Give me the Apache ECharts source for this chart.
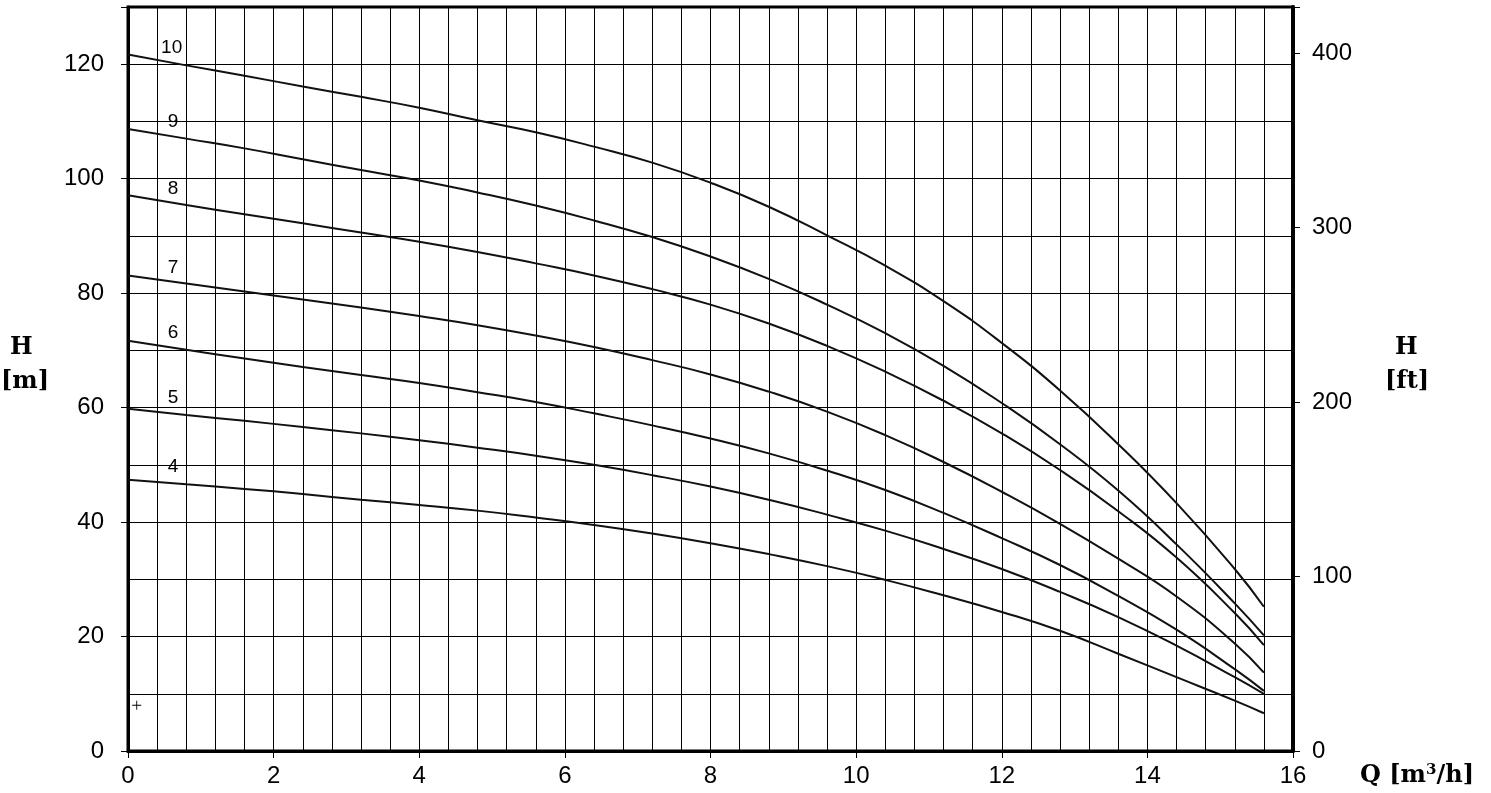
<!DOCTYPE html>
<html>
<head>
<meta charset="utf-8">
<script src="https://cdn.jsdelivr.net/npm/echarts@6/dist/echarts.min.js"></script>
<style>html,body{margin:0;padding:0;background:#fff}#c{width:1491px;height:793px}</style>
</head>
<body>
<div id="c"></div>
<script>
// Flow rate Q [m3/h]
const Q = [0, 0.8, 1.6, 2.4, 3.2, 4.0, 4.8, 5.6, 6.4, 7.2, 8.0, 8.8, 9.6, 10.4, 11.2, 12.0, 12.8, 13.6, 14.4, 15.2, 15.6];
// Head H [m] per stage count
const h10 = [121.7, 119.8, 118.0, 116.1, 114.3, 112.4, 110.2, 108.1, 105.6, 102.8, 99.3, 95.1, 90.1, 84.8, 78.6, 71.3, 63.0, 53.6, 43.3, 31.8, 25.2];
const h9  = [108.7, 107.0, 105.3, 103.4, 101.5, 99.7, 97.6, 95.3, 92.7, 89.8, 86.4, 82.5, 78.0, 73.0, 67.3, 60.8, 53.6, 45.5, 36.1, 25.8, 20.2];
const h8  = [97.1, 95.4, 93.8, 92.2, 90.6, 89.0, 87.2, 85.2, 83.1, 80.7, 78.0, 74.7, 70.8, 66.3, 61.2, 55.5, 49.1, 41.9, 33.8, 24.1, 18.5];
const h7  = [83.1, 81.7, 80.3, 78.9, 77.5, 76.0, 74.4, 72.6, 70.6, 68.3, 65.8, 62.8, 59.3, 55.2, 50.5, 45.3, 39.7, 33.6, 27.0, 18.8, 13.7];
const h6  = [71.7, 70.1, 68.6, 67.1, 65.7, 64.3, 62.7, 61.0, 59.0, 56.9, 54.6, 52.0, 49.0, 45.6, 41.6, 37.2, 32.5, 27.1, 21.2, 14.3, 10.5];
const h5  = [59.8, 58.7, 57.7, 56.6, 55.5, 54.3, 53.0, 51.6, 50.0, 48.2, 46.2, 43.9, 41.3, 38.5, 35.3, 31.8, 27.8, 23.4, 18.4, 12.9, 10.0];
const h4  = [47.4, 46.6, 45.8, 44.9, 43.9, 43.0, 42.0, 40.8, 39.5, 38.0, 36.3, 34.4, 32.3, 29.9, 27.2, 24.3, 21.0, 17.0, 12.9, 8.8, 6.6];
const curveNames = ['10', '9', '8', '7', '6', '5', '4'];
const curves = [h10, h9, h8, h7, h6, h5, h4];
// curve label positions [Q, H]
const labelQ = [0.6, 0.62, 0.62, 0.62, 0.62, 0.62, 0.62];
const labelH = [122.9, 110.0, 98.3, 84.5, 73.1, 61.8, 49.7];
const plusPoint = [0.12, 8];

const M_TO_FT = 1 / 0.3048;
const H_MAX = 130;

const chart = echarts.init(document.getElementById('c'), null, {renderer: 'canvas'});
const series = curves.map((h, i) => ({
  name: curveNames[i],
  type: 'line',
  smooth: 0.5,
  symbol: 'none',
  data: Q.map((q, j) => [q, h[j]]),
  lineStyle: {color: '#111', width: 2},
  z: 5
}));
series.push({
  type: 'scatter',
  symbolSize: 0,
  itemStyle: {opacity: 1, color: '#000'},
  data: curveNames.map((n, i) => [labelQ[i], labelH[i], n]),
  label: {
    show: true, position: 'inside', formatter: p => p.value[2],
    color: '#000', opacity: 1, textBorderWidth: 0, fontFamily: 'Liberation Sans', fontSize: 19
  },
  z: 6
});
series.push({
  type: 'scatter',
  symbol: 'path://M4.5,0h1v10h-1zM0,4.5h10v1h-10z',
  symbolSize: 9,
  itemStyle: {color: '#000', opacity: 1},
  data: [plusPoint],
  z: 6
});

const titleFont = 'bold 24px "DejaVu Serif"';
chart.setOption({
  animation: false,
  backgroundColor: '#fff',
  grid: {left: 128, right: 198, top: 7, bottom: 42, show: true, borderColor: '#000', borderWidth: 3, backgroundColor: 'transparent'},
  xAxis: {
    type: 'value', min: 0, max: 16, interval: 2,
    axisLine: {show: true, onZero: false, lineStyle: {color: '#000', width: 3}},
    axisTick: {show: true, inside: false, length: 7, lineStyle: {color: '#000', width: 1}},
    axisLabel: {color: '#000', fontFamily: 'Liberation Sans', fontSize: 24, margin: 13},
    splitLine: {show: true, lineStyle: {color: '#000', width: 1}},
    minorTick: {show: false, splitNumber: 5},
    minorSplitLine: {show: true, lineStyle: {color: '#000', width: 1}}
  },
  yAxis: [{
    type: 'value', min: 0, max: H_MAX, interval: 20,
    axisLine: {show: true, lineStyle: {color: '#000', width: 3}},
    axisTick: {show: true, inside: false, length: 7, lineStyle: {color: '#000', width: 1}},
    axisLabel: {color: '#000', fontFamily: 'Liberation Sans', fontSize: 24, margin: 24,
      formatter: v => (v % 20 === 0 ? String(v) : '')},
    splitLine: {show: true, lineStyle: {color: '#000', width: 1}},
    minorTick: {show: false, splitNumber: 2},
    minorSplitLine: {show: true, lineStyle: {color: '#000', width: 1}}
  }, {
    type: 'value', min: 0, max: H_MAX * M_TO_FT, interval: 100, position: 'right',
    axisLine: {show: true, lineStyle: {color: '#000', width: 4}},
    axisTick: {show: true, inside: false, length: 7, lineStyle: {color: '#000', width: 1}},
    axisLabel: {color: '#000', fontFamily: 'Liberation Sans', fontSize: 24, margin: 19,
      formatter: v => (v % 100 === 0 ? String(v) : '')},
    splitLine: {show: false}
  }],
  series: series,
  graphic: [
    {type: 'text', left: 10, top: 336, style: {text: 'H', font: titleFont, fill: '#000'}},
    {type: 'text', left: 1, top: 370, style: {text: '[m]', font: titleFont, fill: '#000'}},
    {type: 'text', left: 1395, top: 336, style: {text: 'H', font: titleFont, fill: '#000'}},
    {type: 'text', left: 1385, top: 370, style: {text: '[ft]', font: titleFont, fill: '#000'}},
    {type: 'text', left: 1360, top: 763, style: {rich: {
      a: {font: titleFont, fill: '#000'},
      s: {font: 'bold 15px "DejaVu Serif"', fill: '#000', verticalAlign: 'top', padding: [0, 0, 10, 0]}
    }, text: '{a|Q [m}{s|3}{a|/h]}'}}
  ]
});
</script>
</body>
</html>
